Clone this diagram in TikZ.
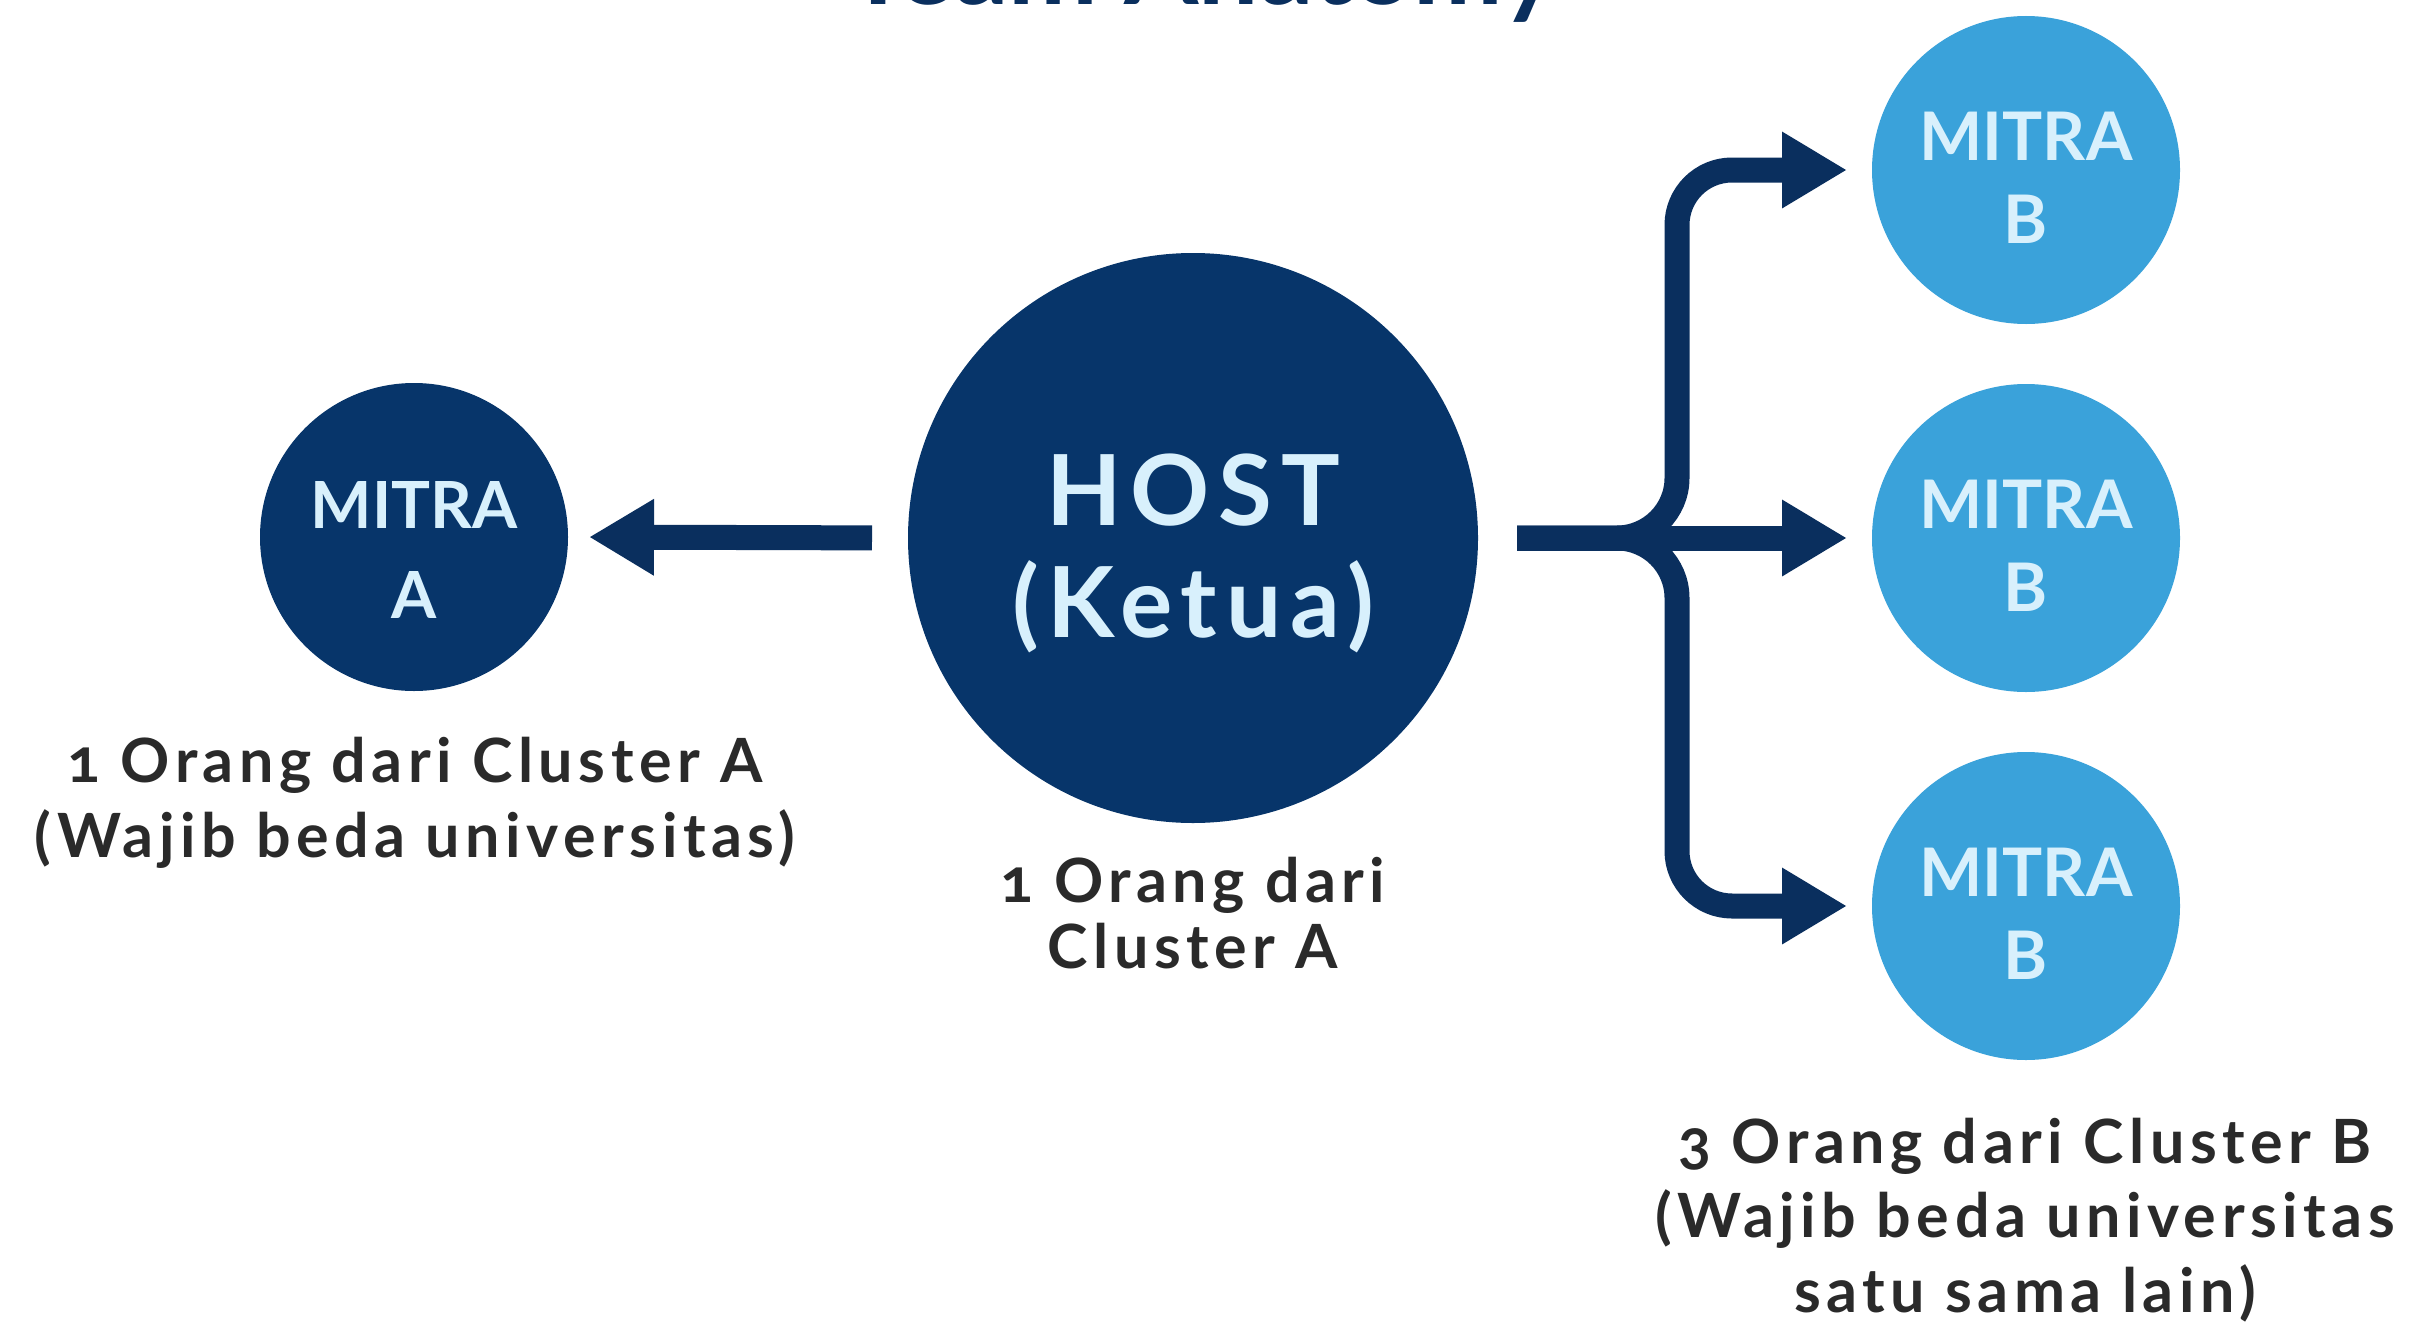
\documentclass[tikz,border=0pt]{standalone}
\usepackage{fontspec}
\setmainfont{Lato}[Numbers=OldStyle]
\usetikzlibrary{arrows.meta}
\definecolor{navy}{HTML}{07356A}
\definecolor{arrnavy}{HTML}{0A2F5E}
\definecolor{lblue}{HTML}{3AA2DA}
\definecolor{ctext}{HTML}{D8F0FC}
\definecolor{ltext}{HTML}{2A2A2A}
\tikzset{
  darkc/.style={circle, fill=navy, inner sep=0pt, outer sep=0pt},
  lightc/.style={circle, fill=lblue, inner sep=0pt, outer sep=0pt},
  intxt/.style={anchor=base, inner sep=0pt, text=ctext, font=\bfseries\fontsize{#1}{#1}\selectfont},
  hosttxt/.style={anchor=base, inner sep=0pt, text=ctext, font=\bfseries\fontsize{98}{98}\selectfont\addfontfeature{LetterSpace=9}},
  labtxt/.style={anchor=base, inner sep=0pt, text=ltext, font=\bfseries\fontsize{61}{61}\selectfont\addfontfeature{LetterSpace=9}},
  conn/.style={draw=arrnavy, line width=25pt, -{Triangle[length=65pt 0 0, width=72pt 0 0]}},
}
\begin{document}
\begin{tikzpicture}[x=1pt, y=-1pt]
\clip (0,0) rectangle (2420,1330);
\fill[white] (0,0) rectangle (2420,1330);
% title (cut off at the top edge, as in the reference)
\node[anchor=base, inner sep=0pt, text=arrnavy, font=\bfseries\fontsize{107}{107}\selectfont] (title) at (1202,5) {Team Anatomy};
% circles
\node[darkc, minimum size=570pt] (host) at (1193,538) {};
\node[darkc, minimum size=308pt] (mA) at (414,537) {};
\node[lightc, minimum size=308pt] (mB1) at (2026,170) {};
\node[lightc, minimum size=308pt] (mB2) at (2026,538) {};
\node[lightc, minimum size=308pt] (mB3) at (2026,906) {};
% circle texts
\node[hosttxt] (hostA) at (1193,525) {HOST};
\node[hosttxt] (hostB) at (1193,637) {(Ketua)};
\node[intxt=65] (mAa) at (414,528) {MITRA};
\node[intxt=65] (mAb) at (414,618) {A};
\node[intxt=67] (mB1a) at (2026,160) {MITRA};
\node[intxt=67] (mB1b) at (2026,243) {B};
\node[intxt=67] (mB2a) at (2026,528) {MITRA};
\node[intxt=67] (mB2b) at (2026,611) {B};
\node[intxt=67] (mB3a) at (2026,896) {MITRA};
\node[intxt=67] (mB3b) at (2026,979) {B};
% labels
\node[labtxt] (lA1) at (415,782) {1 Orang dari Cluster A};
\node[labtxt] (lA2) at (415,857) {(Wajib beda universitas)};
\node[labtxt] (lH1) at (1193,902) {1 Orang dari};
\node[labtxt] (lH2) at (1193,968) {Cluster A};
\node[labtxt] (lB1) at (2025,1163) {3 Orang dari Cluster B};
\node[labtxt] (lB2) at (2025,1237) {(Wajib beda universitas};
\node[labtxt] (lB3) at (2025,1312) {satu sama lain)};
% connectors
\draw[conn, shorten <=36pt, shorten >=21pt] (host.west) -- (mA.east);
\coordinate (bs) at ([xshift=39pt]host.east);
\coordinate (t1) at ([xshift=-25pt]mB1.west);
\coordinate (t2) at ([xshift=-25pt]mB2.west);
\coordinate (t3) at ([xshift=-25pt]mB3.west);
\draw[conn] (bs) -- (t2);
\draw[conn] (bs) -- (1617,538) .. controls (1650,538) and (1677,511) .. (1677,478)
  [rounded corners=55pt] -- (1677,170) -- (t1);
\draw[conn] (bs) -- (1617,538) .. controls (1650,538) and (1677,565) .. (1677,598)
  [rounded corners=55pt] -- (1677,906) -- (t3);
\end{tikzpicture}
\end{document}
